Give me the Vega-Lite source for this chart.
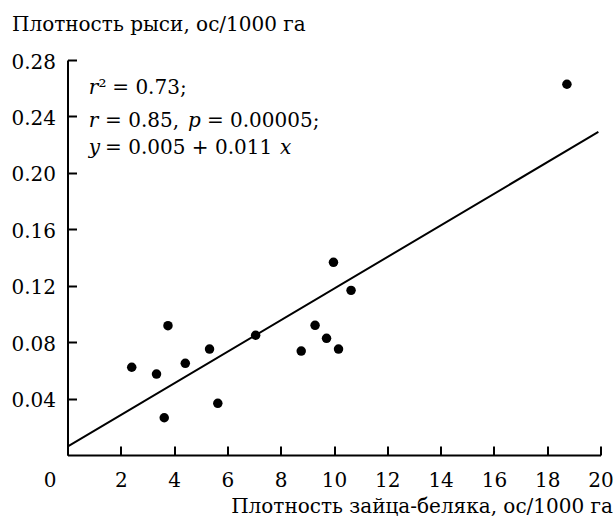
{
  "$schema": "https://vega.github.io/schema/vega-lite/v6.json",
  "width": 533,
  "height": 395,
  "autosize": {"type": "none"},
  "padding": {"left": 67.5, "top": 60, "right": 14.5, "bottom": 67},
  "background": "white",
  "config": {
    "view": {"stroke": null},
    "font": "DejaVu Serif",
    "text": {"font": "DejaVu Serif"},
    "axis": {
      "domainColor": "black",
      "domainWidth": 2,
      "tickColor": "black",
      "tickWidth": 2,
      "grid": false,
      "labelFont": "DejaVu Serif",
      "labelFontSize": 20,
      "labelColor": "black",
      "titleFont": "DejaVu Serif",
      "titleFontSize": 20,
      "titleFontWeight": "normal",
      "titleColor": "black"
    }
  },
  "datasets": {
    "pts": [
      {"x": 2.41, "y": 0.0622},
      {"x": 3.34, "y": 0.0574},
      {"x": 3.77, "y": 0.0917},
      {"x": 3.63, "y": 0.0264},
      {"x": 4.42, "y": 0.065},
      {"x": 5.33, "y": 0.0751},
      {"x": 5.64, "y": 0.0366},
      {"x": 7.06, "y": 0.0849},
      {"x": 8.77, "y": 0.0737},
      {"x": 9.29, "y": 0.0919},
      {"x": 9.72, "y": 0.0827},
      {"x": 10.17, "y": 0.0751},
      {"x": 9.98, "y": 0.1366},
      {"x": 10.64, "y": 0.1167},
      {"x": 18.74, "y": 0.2628}
    ],
    "fit": [
      {"x": 0, "y": 0.0059},
      {"x": 19.92, "y": 0.229}
    ],
    "ital": [
      {"x": 0.8, "y": 0.2557, "t": "r"},
      {"x": 0.8, "y": 0.2327, "t": "r"},
      {"x": 4.52, "y": 0.2327, "t": "p"},
      {"x": 0.8, "y": 0.2132, "t": "y"},
      {"x": 7.97, "y": 0.2132, "t": "x"}
    ],
    "rom": [
      {"x": 1.16, "y": 0.2557, "t": "²"},
      {"x": 1.68, "y": 0.2557, "t": "= 0.73;"},
      {"x": 1.41, "y": 0.2327, "t": "= 0.85,"},
      {"x": 5.23, "y": 0.2327, "t": "= 0.00005;"},
      {"x": 1.41, "y": 0.2132, "t": "= 0.005 + 0.011"}
    ]
  },
  "encoding": {
    "x": {
      "field": "x",
      "type": "quantitative",
      "scale": {"domain": [0, 20], "nice": false, "zero": false},
      "axis": {
        "values": [0, 2, 4, 6, 8, 10, 12, 14, 16, 18, 20],
        "format": "d",
        "tickSize": -9,
        "labelFlush": false,
        "labelPadding": 24,
        "labelOffset": {"condition": {"test": "datum.value === 0", "value": -18}, "value": 0},
        "title": "Плотность зайца-беляка, ос/1000 га",
        "titleAlign": "right",
        "titleAnchor": "end",
        "titleBaseline": "alphabetic",
        "titleX": 545,
        "titleY": 57
      }
    },
    "y": {
      "field": "y",
      "type": "quantitative",
      "scale": {"domain": [0, 0.28], "nice": false, "zero": false},
      "axis": {
        "values": [0.04, 0.08, 0.12, 0.16, 0.2, 0.24, 0.28],
        "format": ".2f",
        "tickSize": -9,
        "labelPadding": 21,
        "labelOffset": 2,
        "title": "Плотность рыси, ос/1000 га",
        "titleAngle": 0,
        "titleAlign": "left",
        "titleAnchor": "start",
        "titleBaseline": "alphabetic",
        "titleX": -56,
        "titleY": -30
      }
    }
  },
  "layer": [
    {
      "data": {"name": "fit"},
      "mark": {"type": "line", "color": "black", "strokeWidth": 2}
    },
    {
      "data": {"name": "pts"},
      "mark": {"type": "circle", "size": 90, "color": "black", "opacity": 1}
    },
    {
      "data": {"name": "ital"},
      "mark": {"type": "text", "align": "left", "baseline": "alphabetic", "fontSize": 20, "fontStyle": "italic", "font": "DejaVu Serif", "color": "black"},
      "encoding": {"text": {"field": "t"}}
    },
    {
      "data": {"name": "rom"},
      "mark": {"type": "text", "align": "left", "baseline": "alphabetic", "fontSize": 20, "font": "DejaVu Serif", "color": "black"},
      "encoding": {"text": {"field": "t"}}
    }
  ]
}
